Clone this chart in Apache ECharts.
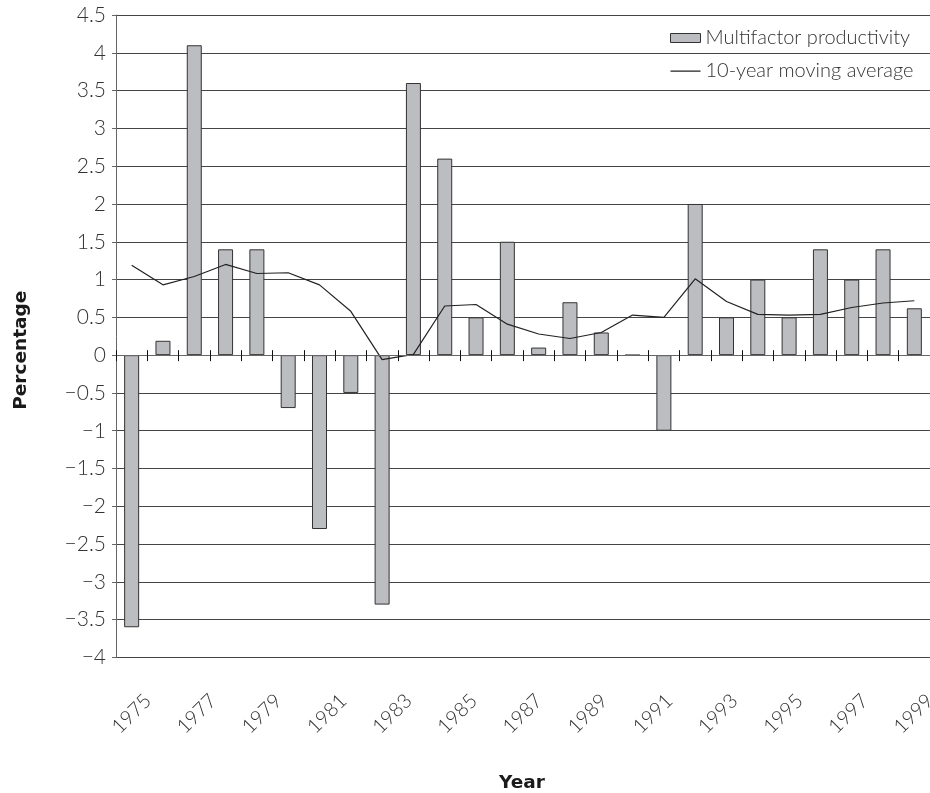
<!DOCTYPE html>
<html>
<head>
<meta charset="utf-8">
<style>
  html, body { margin: 0; padding: 0; background: #fff; }
  #chart { width: 930px; height: 793px; }
</style>
<script src="https://cdn.jsdelivr.net/npm/echarts@6/dist/echarts.min.js"></script>
</head>
<body>
<div id="chart"></div>
<script>
// Annual observations plotted as bars / line (one slot per year)
const barYears = ['1975', '1976', '1977', '1978', '1979', '1980', '1981', '1982', '1983',
  '1984', '1985', '1986', '1987', '1988', '1989', '1990', '1991', '1992', '1993',
  '1994', '1995', '1996', '1997', '1998', '1999', '2000'];

// Year labels printed along the bottom axis
const labelYears = ['1975', '1976', '1977', '1978', '1979', '1980', '1981', '1982', '1983',
  '1984', '1985', '1986', '1987', '1988', '1989', '1990', '1991', '1992', '1993',
  '1994', '1995', '1996', '1997', '1998', '1999'];

// Multifactor productivity growth, percent
const productivity = [-3.6, 0.19, 4.1, 1.4, 1.4, -0.7, -2.3, -0.5, -3.3,
  3.6, 2.6, 0.5, 1.5, 0.1, 0.7, 0.3, 0, -1.0, 2.0,
  0.5, 1.0, 0.5, 1.4, 1.0, 1.4, 0.62];

// 10-year moving average, percent
const movingAverage = [1.19, 0.93, 1.04, 1.2, 1.08, 1.09, 0.93, 0.58, -0.06,
  0.01, 0.65, 0.67, 0.41, 0.28, 0.22, 0.3, 0.53, 0.5, 1.01,
  0.71, 0.54, 0.53, 0.54, 0.63, 0.69, 0.72];

// Value axis range and step
const yMin = -4;
const yMax = 4.5;
const yStep = 0.5;

// plot box
const W = 930, H = 793;
const PLOT_LEFT = 116, PLOT_TOP = 15, PLOT_BOTTOM = 135.5;
const plotH = H - PLOT_TOP - PLOT_BOTTOM;
const zeroY = PLOT_TOP + plotH * (yMax - 0) / (yMax - yMin);

const LIGHT = 'Lato';
const HEAVY = '"DejaVu Sans"';
const fmt = v => (v < 0 ? '\u2212' + Math.abs(v) : String(v));

// thin horizontal stroke for the line legend key (full-height bounding box keeps it 1px thick)
const lineKey = 'path://M0,0L0.01,0L0.01,9L0,9Z M0,4L30,4L30,5.2L0,5.2Z';

const chart = echarts.init(document.getElementById('chart'), null, { renderer: 'canvas' });

const hiddenY = idx => ({
  type: 'value', gridIndex: idx, min: 0, max: 1, show: false, splitLine: { show: false }
});

const option = {
  animation: false,
  backgroundColor: '#ffffff',
  title: {
    text: 'Year',
    left: 522,
    top: 774,
    textAlign: 'center',
    padding: 0,
    textStyle: { fontFamily: HEAVY, fontWeight: 'bold', fontSize: 18.5, color: '#1a1a1a' }
  },
  legend: {
    orient: 'vertical',
    left: 665,
    top: 23,
    itemWidth: 30,
    itemHeight: 9,
    itemGap: 13,
    textStyle: { fontFamily: LIGHT, fontWeight: 300, fontSize: 20, color: '#333' },
    data: [
      { name: 'Multifactor productivity', icon: 'rect',
        itemStyle: { color: '#bcbdc1', borderColor: '#333', borderWidth: 1 } },
      { name: '10-year moving average', icon: lineKey,
        itemStyle: { color: '#222', borderWidth: 0 } }
    ]
  },
  grid: [
    // main plot
    { left: PLOT_LEFT, right: 0, top: PLOT_TOP, bottom: PLOT_BOTTOM, containLabel: false, outerBoundsMode: 'none' },
    // year-label strip
    { left: 148, right: 0, top: PLOT_TOP, bottom: PLOT_BOTTOM, containLabel: false, outerBoundsMode: 'none' },
    // upper half: its bottom edge is the zero line
    { left: PLOT_LEFT, right: 0, top: PLOT_TOP, bottom: H - zeroY, containLabel: false, outerBoundsMode: 'none' },
    // lower half: its top edge is the zero line
    { left: PLOT_LEFT, right: 0, top: zeroY, bottom: PLOT_BOTTOM, containLabel: false, outerBoundsMode: 'none' }
  ],
  xAxis: [
    {
      // year slots for the bars and the line
      type: 'category',
      gridIndex: 0,
      data: barYears,
      boundaryGap: true,
      axisLine: { show: false, onZero: false },
      axisTick: { show: false },
      axisLabel: { show: false },
      splitLine: { show: false }
    },
    {
      // year labels along the bottom
      type: 'category',
      gridIndex: 1,
      position: 'bottom',
      data: labelYears,
      boundaryGap: false,
      axisLine: { show: false, onZero: false },
      axisTick: { show: false },
      axisLabel: {
        show: true,
        interval: 1,
        rotate: 45,
        margin: 40,
        fontFamily: LIGHT,
        fontWeight: 300,
        fontSize: 20,
        color: '#333'
      },
      splitLine: { show: false }
    },
    {
      // zero line with tick marks hanging below it
      type: 'category',
      gridIndex: 2,
      position: 'bottom',
      data: barYears,
      boundaryGap: true,
      z: 5,
      axisLine: { show: true, onZero: false, lineStyle: { color: '#666', width: 1 } },
      axisTick: { show: true, interval: 0, length: 6, lineStyle: { color: '#111', width: 1 } },
      axisLabel: { show: false },
      splitLine: { show: false }
    },
    {
      // tick marks rising above the zero line
      type: 'category',
      gridIndex: 3,
      position: 'top',
      data: barYears,
      boundaryGap: true,
      z: 5,
      axisLine: { show: false, onZero: false },
      axisTick: { show: true, interval: 0, length: 5, lineStyle: { color: '#111', width: 1 } },
      axisLabel: { show: false },
      splitLine: { show: false }
    }
  ],
  yAxis: [
    {
      type: 'value',
      gridIndex: 0,
      min: yMin,
      max: yMax,
      interval: yStep,
      name: 'Percentage',
      nameLocation: 'middle',
      nameGap: 85,
      nameRotate: 90,
      nameTextStyle: {
        fontFamily: HEAVY, fontWeight: 'bold', fontSize: 18.5, color: '#1a1a1a',
        padding: [0, 28, 0, 0]
      },
      axisLine: { show: true, onZero: false, lineStyle: { color: '#666', width: 1 } },
      axisTick: { show: true, inside: false, length: 4, lineStyle: { color: '#666' } },
      axisLabel: {
        margin: 10,
        fontFamily: LIGHT,
        fontWeight: 300,
        fontSize: 21,
        color: '#333',
        formatter: fmt
      },
      splitLine: { show: true, lineStyle: { color: '#454545', width: 1 } }
    },
    hiddenY(1),
    hiddenY(2),
    hiddenY(3)
  ],
  series: [
    {
      name: 'Multifactor productivity',
      type: 'bar',
      xAxisIndex: 0,
      yAxisIndex: 0,
      data: productivity,
      barWidth: 15,
      itemStyle: { color: '#bcbdc1', borderColor: '#333', borderWidth: 1 },
      z: 2
    },
    {
      name: '10-year moving average',
      type: 'line',
      xAxisIndex: 0,
      yAxisIndex: 0,
      data: movingAverage,
      symbol: 'none',
      color: '#222',
      lineStyle: { color: '#222', width: 1.2 },
      z: 3
    }
  ]
};

chart.setOption(option);
</script>
</body>
</html>
